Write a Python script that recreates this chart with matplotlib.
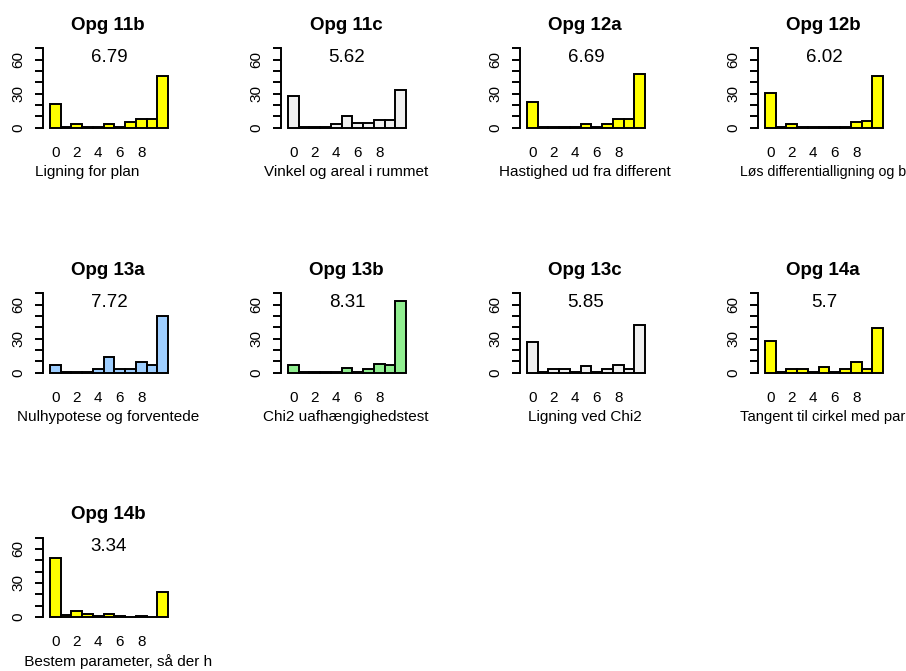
import numpy as np
import matplotlib.pyplot as plt

plt.rcParams['font.family'] = ['Liberation Sans', 'DejaVu Sans']

# ── DATA ─────────────────────────────────────────────────────
scores = np.arange(11)

titles = ['Opg 11b', 'Opg 11c', 'Opg 12a', 'Opg 12b',
          'Opg 13a', 'Opg 13b', 'Opg 13c', 'Opg 14a',
          'Opg 14b']
means = ['6.79', '5.62', '6.69', '6.02',
         '7.72', '8.31', '5.85', '5.7',
         '3.34']
names = ['Ligning for plan          ', 'Vinkel og areal i rummet',
         'Hastighed ud fra different', 'Løs differentialligning og b',
         'Nulhypotese og forventede', 'Chi2 uafhængighedstest',
         'Ligning ved Chi2', 'Tangent til cirkel med par',
         '     Bestem parameter, så der h']

c11b = [21, 1, 3, 1, 1, 3, 1, 5, 8, 8, 46]
c11c = [28, 1, 1, 1, 3, 10, 4, 4, 7, 7, 33]
c12a = [23, 1, 1, 1, 1, 3, 1, 3, 8, 8, 47]
c12b = [31, 1, 3, 1, 1, 1, 1, 1, 5, 6, 46]
c13a = [7, 1, 1, 1, 3, 14, 3, 3, 9, 7, 50]
c13b = [7, 1, 1, 1, 1, 4, 1, 3, 8, 7, 63]
c13c = [27, 1, 3, 3, 1, 6, 1, 3, 7, 3, 42]
c14a = [28, 1, 3, 3, 1, 5, 1, 3, 9, 3, 39]
c14b = [52, 2, 5, 3, 1, 3, 1, 0, 1, 0, 22]
counts = [c11b, c11c, c12a, c12b, c13a, c13b, c13c, c14a, c14b]

YELLOW = '#FFFF00'
PALE = '#F0F0F0'
BLUE = '#9ECEFF'
GREEN = '#90EE90'
fills = [YELLOW, PALE, YELLOW, YELLOW, BLUE, GREEN, PALE, YELLOW, YELLOW]

# ── LAYOUT (pixels) ──────────────────────────────────────────
W, H = 906, 671
col_x = [43, 281, 520, 758]
row_zero = [127.7, 372.7, 617.0]
ax_w = 130
px_per_unit = 1.134
ylo, yhi = -2.8, 72.8
ax_h = (yhi - ylo) * px_per_unit

fig = plt.figure(figsize=(W / 100, H / 100), dpi=100)
xlabels = []

for i, cnt in enumerate(counts):
    r, c = divmod(i, 4)
    bottom = row_zero[r] - ylo * px_per_unit
    ax = fig.add_axes([col_x[c] / W, 1 - bottom / H, ax_w / W, ax_h / H])

    ax.bar(scores, cnt, width=1, color=fills[i], edgecolor='black',
           linewidth=1.4)
    ax.set_xlim(-1.15, 10.97)
    ax.set_ylim(ylo, yhi)

    for side in ['top', 'right', 'bottom']:
        ax.spines[side].set_visible(False)
    ax.spines['left'].set_bounds(0, 70)
    ax.spines['left'].set_linewidth(1.4)

    yt = list(range(0, 71, 10))
    ax.set_yticks(yt)
    ax.set_yticklabels([str(v) if v % 30 == 0 else '' for v in yt],
                       rotation=90, va='center')
    ax.tick_params(axis='y', length=5.8, width=1.4, labelsize=11, pad=7)

    ax.set_xticks([0, 2, 4, 6, 8])
    ax.tick_params(axis='x', length=0, labelsize=11, pad=11)

    ax.annotate(titles[i], xy=(0.5, 70), xycoords=('axes fraction', 'data'),
                xytext=(0, 16.6), textcoords='offset points',
                ha='center', va='center', fontsize=13.5, fontweight='bold')
    ax.text(5, 62, means[i], ha='center', va='center', fontsize=13.5)
    t = ax.annotate(names[i], xy=(0.5, 0), xycoords=('axes fraction', 'data'),
                    xytext=(0, -32), textcoords='offset points',
                    ha='center', va='center', fontsize=11)
    xlabels.append(t)

# shrink any axis caption that would run past the right edge of the figure
renderer = fig.canvas.get_renderer()
for t in xlabels:
    ext = t.get_window_extent(renderer)
    if ext.x1 > W - 1:
        centre = (ext.x0 + ext.x1) / 2
        t.set_fontsize(t.get_fontsize() * (W - 1 - centre) / (ext.x1 - centre))

fig.savefig('out.png', dpi=100)
